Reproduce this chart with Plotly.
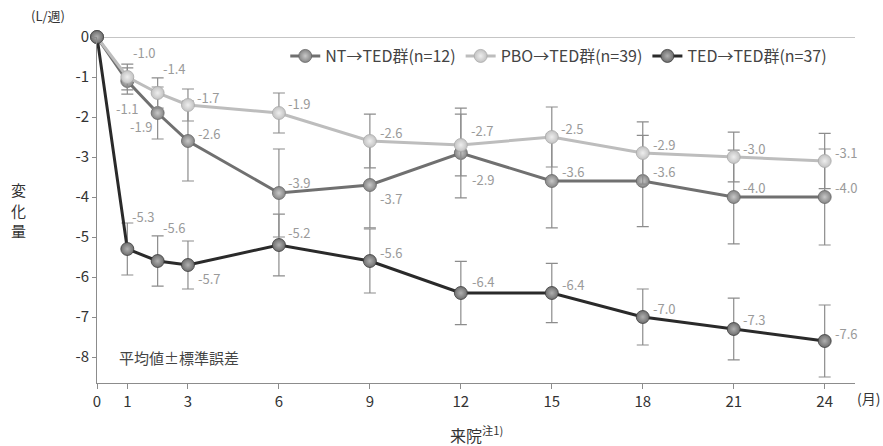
import plotly.graph_objects as go

# ---- data ----
months = [0, 1, 2, 3, 6, 9, 12, 15, 18, 21, 24]
nt_mean = [0, -1.1, -1.9, -2.6, -3.9, -3.7, -2.9, -3.6, -3.6, -4.0, -4.0]
nt_se = [0, 0.33, 0.65, 1.0, 1.1, 1.07, 1.12, 1.17, 1.14, 1.17, 1.2]
pbo_mean = [0, -1.0, -1.4, -1.7, -1.9, -2.6, -2.7, -2.5, -2.9, -3.0, -3.1]
pbo_se = [0, 0.32, 0.38, 0.40, 0.50, 0.67, 0.77, 0.75, 0.78, 0.62, 0.69]
ted_mean = [0, -5.3, -5.6, -5.7, -5.2, -5.6, -6.4, -6.4, -7.0, -7.3, -7.6]
ted_se = [0, 0.65, 0.63, 0.6, 0.77, 0.8, 0.79, 0.74, 0.7, 0.77, 0.9]

series_names = ["NT→TED群(n=12)", "PBO→TED群(n=39)", "TED→TED群(n=37)"]
x_tickvals = [0, 1, 3, 6, 9, 12, 15, 18, 21, 24]
y_tickvals = [0, -1, -2, -3, -4, -5, -6, -7, -8]
y_title_chars = ["変", "化", "量"]

# ---- label placement (style, pixel offsets for value labels, index 1..10) ----
nt_lab = [("center", 0, 27), ("right", -3, 13), ("left", 8, -8), ("left", 7, -11),
          ("left", 8, 13), ("left", 9, 26), ("left", 8, -10), ("left", 8, -10),
          ("left", 7, -10), ("left", 8, -10)]
pbo_lab = [("left", 4, -25), ("left", 3, -25), ("left", 7, -8), ("left", 7, -10),
           ("left", 8, -9), ("left", 8, -15), ("left", 7, -9), ("left", 8, -9),
           ("left", 7, -9), ("left", 8, -9)]
ted_lab = [("left", 3, -33), ("left", 3, -34), ("left", 8, 13), ("left", 7, -13),
           ("left", 8, -9), ("left", 9, -12), ("left", 8, -9), ("left", 8, -9),
           ("left", 7, -10), ("left", 8, -8)]

FONT = "Noto Sans CJK JP, Noto Sans, sans-serif"

styles = [
    dict(line="#707070", edge="#858585", center="#c8c8c8", outline="#666666"),
    dict(line="#bdbdbd", edge="#c2c2c2", center="#eeeeee", outline="#aaaaaa"),
    dict(line="#2a2a2a", edge="#6e6e6e", center="#b0b0b0", outline="#3a3a3a"),
]

fig = go.Figure()
for name, mean, se, st in zip(series_names, [nt_mean, pbo_mean, ted_mean],
                              [nt_se, pbo_se, ted_se], styles):
    fig.add_trace(go.Scatter(
        x=months, y=mean, name=name, mode="lines+markers",
        line=dict(color=st["line"], width=3),
        marker=dict(size=13, color=st["edge"],
                    gradient=dict(type="radial", color=st["center"]),
                    line=dict(color=st["outline"], width=0.8)),
        error_y=dict(type="data", array=se, visible=True, color="#8c8c8c",
                     thickness=1.2, width=6),
        cliponaxis=False,
    ))

annotations = []
for mean, labs in [(nt_mean, nt_lab), (pbo_mean, pbo_lab), (ted_mean, ted_lab)]:
    for i, (anc, dx, dy) in enumerate(labs, start=1):
        annotations.append(dict(
            x=months[i], y=mean[i], xref="x", yref="y", text=f"{mean[i]:.1f}",
            showarrow=False, xanchor=anc, yanchor="middle", xshift=dx, yshift=-dy,
            font=dict(family=FONT, size=13, color="#9a9a9a")))

for k, ch in enumerate(y_title_chars):
    annotations.append(dict(
        x=-0.104, y=0.558 - k * 0.058, xref="paper", yref="paper", text=ch, showarrow=False,
        borderpad=0, font=dict(family=FONT, size=15, color="#333333"),
        xanchor="center", yanchor="middle"))

annotations += [
    dict(x=-0.065, y=1.062, xref="paper", yref="paper", text="(L/週)", showarrow=False,
         font=dict(family=FONT, size=13, color="#333333"), xanchor="center", yanchor="middle"),
    dict(x=0.026, y=0.075, xref="paper", yref="paper", text="平均値±標準誤差", showarrow=False,
         font=dict(family=FONT, size=15, color="#444444"), xanchor="left", yanchor="middle"),
    dict(x=0.5, y=-0.15, xref="paper", yref="paper", text="来院<sup>注1)</sup>", showarrow=False,
         font=dict(family=FONT, size=16, color="#333333"), xanchor="center", yanchor="middle"),
    dict(x=1.0, y=-0.043, xref="paper", yref="paper", text="(月)", showarrow=False,
         font=dict(family=FONT, size=14, color="#333333"), xanchor="left", yanchor="middle"),
]

fig.update_layout(
    width=883, height=446,
    margin=dict(l=97, r=28, t=37, b=63),
    paper_bgcolor="white", plot_bgcolor="white",
    font=dict(family=FONT, color="#333333"),
    showlegend=True,
    legend=dict(orientation="h", x=0.97, y=0.945, xanchor="right", yanchor="middle",
                font=dict(family=FONT, size=16, color="#444444"),
                bgcolor="rgba(0,0,0,0)", itemwidth=30, tracegroupgap=0),
    xaxis=dict(range=[0, 25], tickvals=x_tickvals, ticktext=[str(v) for v in x_tickvals],
               showgrid=False, zeroline=False, showline=True, linecolor="#8c8c8c", linewidth=1,
               ticks="outside", ticklen=5, tickcolor="#8c8c8c",
               tickfont=dict(family=FONT, size=15, color="#333333")),
    yaxis=dict(range=[-8.65, 0], tickvals=y_tickvals, ticktext=[f"{v:d}" for v in y_tickvals],
               showgrid=False, zeroline=False, showline=True, linecolor="#8c8c8c", linewidth=1,
               ticks="outside", ticklen=4, tickcolor="#8c8c8c",
               tickfont=dict(family=FONT, size=15, color="#333333")),
    shapes=[dict(type="line", xref="paper", yref="y", x0=0, x1=1, y0=0, y1=0,
                 line=dict(color="#8c8c8c", width=1), layer="below")],
    annotations=annotations,
)

fig.write_html("out.html", config={"displayModeBar": False},
               post_script="document.body.style.margin='0';document.body.style.padding='0';")
